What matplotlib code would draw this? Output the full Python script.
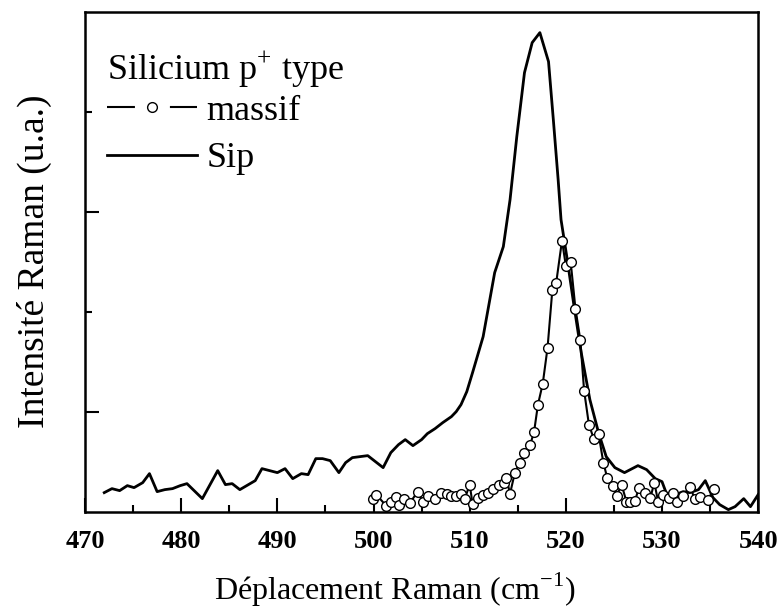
import numpy as np
import matplotlib
matplotlib.use("Agg")
import matplotlib.pyplot as plt
from matplotlib.lines import Line2D
from matplotlib.ticker import FixedLocator

# Raman spectra
sip_x = [472.0, 472.8, 473.6, 474.4, 475.1, 476.0, 476.7, 477.5, 478.3, 479.1,
         479.9, 480.6, 482.2, 483.8, 484.6, 485.3, 486.1, 487.7, 488.4, 490.0,
         490.8, 491.6, 492.5, 493.2, 494.0, 494.7, 495.5, 496.4, 497.1, 497.8,
         499.4, 501.0, 501.8, 502.6, 503.3, 504.1, 505.0, 505.6, 506.4, 507.2,
         508.1, 508.6, 509.1, 509.7, 510.3, 511.4, 512.6, 513.5, 514.2, 514.9,
         515.7, 516.5, 517.3, 518.2, 518.7, 519.2, 519.5, 520.1, 520.8, 521.6,
         522.5, 523.4, 524.2, 525.1, 526.1, 527.5, 528.4, 529.3, 530.0, 530.7,
         531.4, 532.2, 532.9, 533.8, 534.5, 535.3, 536.0, 536.9, 537.6, 538.5,
         539.2, 540.0]
sip_y = [0.19, 0.23, 0.21, 0.26, 0.24, 0.29, 0.38, 0.20, 0.22, 0.23,
         0.26, 0.28, 0.13, 0.41, 0.27, 0.28, 0.22, 0.31, 0.43, 0.39,
         0.43, 0.33, 0.38, 0.37, 0.53, 0.53, 0.51, 0.39, 0.49, 0.54,
         0.56, 0.44, 0.59, 0.67, 0.72, 0.66, 0.72, 0.78, 0.83, 0.89,
         0.95, 1.00, 1.07, 1.20, 1.39, 1.75, 2.39, 2.65, 3.12, 3.75,
         4.39, 4.69, 4.79, 4.50, 3.92, 3.32, 2.92, 2.55, 2.09, 1.59,
         1.12, 0.79, 0.55, 0.44, 0.39, 0.46, 0.42, 0.33, 0.30, 0.12,
         0.17, 0.20, 0.19, 0.22, 0.31, 0.14, 0.07, 0.02, 0.05, 0.13,
         0.05, 0.17]

massif_x = [499.9, 500.3, 501.3, 501.8, 502.3, 502.7, 503.2, 503.8, 504.6, 505.1,
            505.7, 506.4, 507.0, 507.6, 508.1, 508.6, 509.1, 509.5, 510.0, 510.3,
            510.9, 511.4, 511.9, 512.4, 513.0, 513.6, 513.8, 514.2, 514.7, 515.2,
            515.7, 516.3, 516.7, 517.1, 517.6, 518.1, 518.6, 519.0, 519.6, 520.0,
            520.5, 521.0, 521.5, 521.9, 522.4, 522.9, 523.4, 523.9, 524.3, 524.9,
            525.3, 525.8, 526.3, 526.7, 527.2, 527.6, 528.2, 528.8, 529.2, 529.6,
            530.1, 530.7, 531.1, 531.6, 532.2, 532.9, 533.4, 534.0, 534.8, 535.4]
massif_y = [0.13, 0.17, 0.06, 0.10, 0.15, 0.07, 0.13, 0.09, 0.20, 0.10,
            0.16, 0.13, 0.19, 0.18, 0.16, 0.16, 0.18, 0.13, 0.27, 0.08,
            0.14, 0.17, 0.19, 0.23, 0.27, 0.29, 0.34, 0.18, 0.39, 0.49,
            0.59, 0.67, 0.80, 1.07, 1.28, 1.64, 2.22, 2.29, 2.71, 2.46,
            2.50, 2.03, 1.72, 1.21, 0.87, 0.73, 0.78, 0.49, 0.34, 0.26,
            0.16, 0.27, 0.10, 0.10, 0.11, 0.24, 0.19, 0.14, 0.29, 0.10,
            0.17, 0.14, 0.19, 0.10, 0.16, 0.25, 0.13, 0.15, 0.12, 0.23]

x_ticks = [470, 480, 490, 500, 510, 520, 530, 540]

plt.rcParams['font.family'] = ['Liberation Serif', 'DejaVu Serif']
plt.rcParams['mathtext.fontset'] = 'custom'
plt.rcParams['mathtext.rm'] = 'Liberation Serif'

fig = plt.figure(figsize=(7.8, 6.12), dpi=100)
ax = fig.add_axes([0.109, 0.164, 0.863, 0.817])

ax.plot(sip_x, sip_y, color='black', lw=2.0, zorder=2)
ax.plot(massif_x, massif_y, color='black', lw=1.5, marker='o', ms=7,
        mfc='white', mec='black', mew=1.0, zorder=3)

ax.set_xlim(470, 540)
ax.set_ylim(0, 5)
ax.xaxis.set_major_locator(FixedLocator(x_ticks))
ax.xaxis.set_minor_locator(FixedLocator([475, 485, 495, 505, 515, 525, 535]))
ax.yaxis.set_major_locator(FixedLocator([1, 3]))
ax.yaxis.set_minor_locator(FixedLocator([2, 4]))
ax.set_yticklabels([])
ax.tick_params(which='both', direction='in', top=False, right=False, width=1.5)
ax.tick_params(which='major', length=10)
ax.tick_params(which='minor', length=5)
ax.tick_params(axis='x', labelsize=19, pad=13)
for lab in ax.get_xticklabels():
    lab.set_fontweight('bold')
for sp in ax.spines.values():
    sp.set_linewidth(1.8)

ax.set_xlabel('Déplacement Raman (cm$^{-1}$)', fontsize=23)
ax.xaxis.set_label_coords(0.46, -0.118)
ax.set_ylabel('Intensité Raman (u.a.)', fontsize=27, labelpad=20)

# legend: title written as its own text, then the two entries
ax.text(0.033, 0.884, 'Silicium p$^{+}$ type', transform=ax.transAxes,
        fontsize=26, va='center', ha='left')
h_massif = Line2D([], [], color='black', lw=1.5, ls=(0, (13.4, 16.8)),
                  marker='o', ms=7, mfc='white', mec='black', mew=1.0)
h_sip = Line2D([], [], color='black', lw=2.0)
leg = ax.legend([h_massif, h_sip], ['massif', 'Sip'],
                loc='upper left', bbox_to_anchor=(-0.005, 0.885), frameon=False,
                fontsize=26, handlelength=2.5,
                handletextpad=0.25, labelspacing=0.4, borderpad=0.2)

fig.savefig('out.png', dpi=100)
